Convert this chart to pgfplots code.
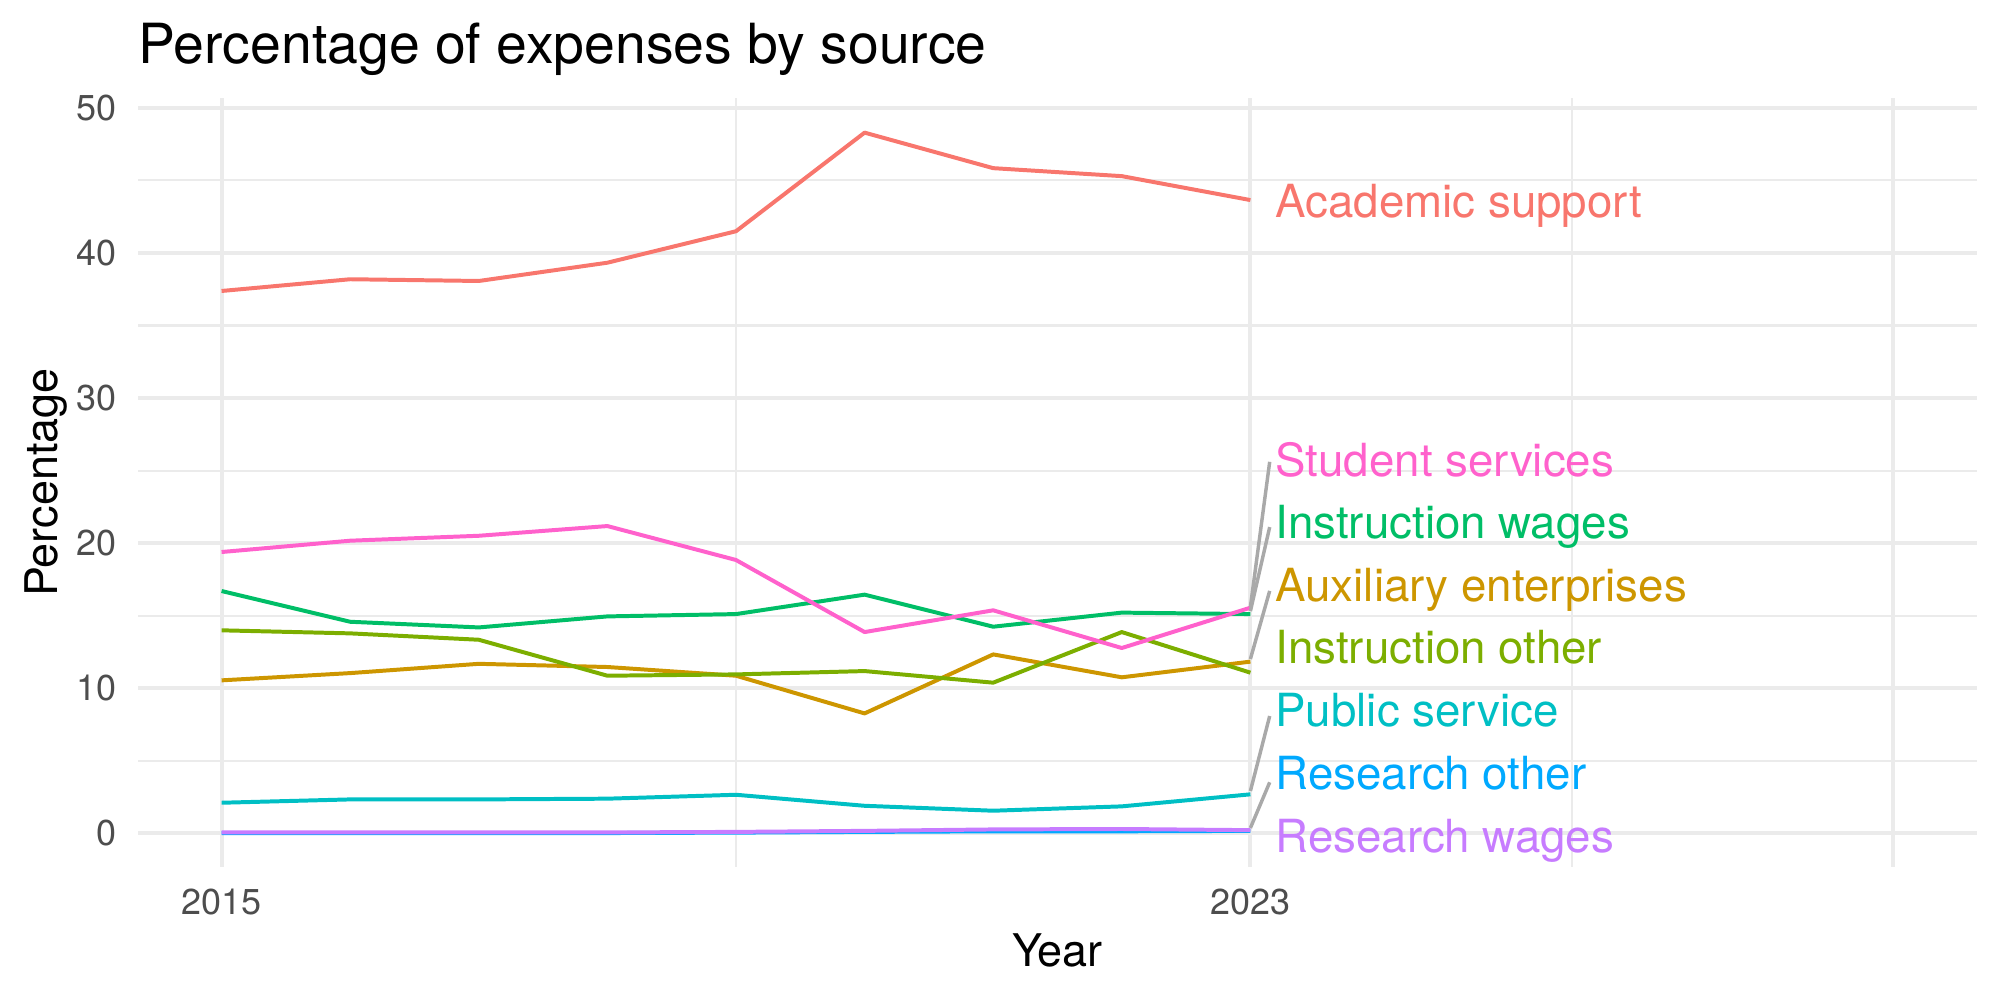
\documentclass[border=0pt]{standalone}
\usepackage{pgfplots}
\pgfplotsset{compat=1.18}
\usepackage{fontspec}
\setmainfont{TeX Gyre Heros}
\definecolor{cAcad}{HTML}{F8766D}
\definecolor{cAux}{HTML}{CD9600}
\definecolor{cIO}{HTML}{7CAE00}
\definecolor{cIW}{HTML}{00BE67}
\definecolor{cPub}{HTML}{00BFC4}
\definecolor{cRO}{HTML}{00A9FF}
\definecolor{cRW}{HTML}{C77CFF}
\definecolor{cStu}{HTML}{FF61CC}
\definecolor{gridc}{HTML}{EBEBEB}
\definecolor{tickc}{HTML}{4D4D4D}
\definecolor{segc}{HTML}{A9A9A9}
\begin{document}
\begin{tikzpicture}
\useasboundingbox (0,0) rectangle (578.16pt,289.08pt);
\begin{axis}[
  at={(39.89pt,38.45pt)}, anchor=south west,
  width=531.62pt, height=222.30pt, scale only axis,
  xmin=2014.35, xmax=2028.65, ymin=-2.34, ymax=50.69,
  axis line style={draw=none},
  major tick length=0pt, minor tick length=0pt,
  xtick={2015,2023,2028}, xticklabels={2015,2023,{}},
  minor xtick={2019,2025.5},
  ytick={0,10,20,30,40,50},
  minor ytick={5,15,25,35,45},
  grid=both,
  major grid style={draw=gridc, line width=1.15pt},
  minor grid style={draw=gridc, line width=0.58pt},
  /pgf/number format/assume math mode=true,
  ticklabel style={font=\fontsize{10.4}{12}\selectfont, text=tickc, inner sep=0pt},
  xticklabel style={anchor=north, yshift=-6.07pt},
  yticklabel style={anchor=east, xshift=-6.07pt},
  xlabel={Year},
  ylabel={Percentage},
  label style={font=\fontsize{13}{15}\selectfont, inner sep=0pt},
  xlabel style={at={(axis description cs:0.5,-0.130)}, anchor=base},
  ylabel style={at={(axis description cs:-0.044,0.5)}, anchor=base, rotate=0},
  clip=false,
  every axis plot/.append style={line width=1.15pt, line join=round, mark=none},
]
\addplot[cAcad] coordinates {(2015,37.38) (2016,38.19) (2017,38.07) (2018,39.33) (2019,41.50) (2020,48.30) (2021,45.85) (2022,45.30) (2023,43.65)};
\addplot[cAux] coordinates {(2015,10.53) (2016,11.03) (2017,11.67) (2018,11.45) (2019,10.85) (2020,8.25) (2021,12.32) (2022,10.74) (2023,11.82)};
\addplot[cIO] coordinates {(2015,13.98) (2016,13.77) (2017,13.33) (2018,10.85) (2019,10.94) (2020,11.17) (2021,10.37) (2022,13.86) (2023,11.06)};
\addplot[cIW] coordinates {(2015,16.69) (2016,14.57) (2017,14.18) (2018,14.94) (2019,15.10) (2020,16.44) (2021,14.23) (2022,15.20) (2023,15.10)};
\addplot[cPub] coordinates {(2015,2.09) (2016,2.32) (2017,2.32) (2018,2.37) (2019,2.64) (2020,1.88) (2021,1.54) (2022,1.84) (2023,2.67)};
\addplot[cRO] coordinates {(2015,0.00) (2016,0.00) (2017,0.00) (2018,0.00) (2019,0.03) (2020,0.08) (2021,0.12) (2022,0.12) (2023,0.15)};
\addplot[cRW] coordinates {(2015,0.04) (2016,0.04) (2017,0.04) (2018,0.04) (2019,0.08) (2020,0.15) (2021,0.25) (2022,0.28) (2023,0.20)};
\addplot[cStu] coordinates {(2015,19.38) (2016,20.16) (2017,20.50) (2018,21.17) (2019,18.83) (2020,13.86) (2021,15.36) (2022,12.76) (2023,15.54)};
% repel segments
\addplot[segc, line width=1.0pt] coordinates {(2023,15.6) (2023.15,25.6)};
\addplot[segc, line width=1.0pt] coordinates {(2023,15.3) (2023.15,21.1)};
\addplot[segc, line width=1.0pt] coordinates {(2023,12.0) (2023.15,16.7)};
\addplot[segc, line width=1.0pt] coordinates {(2023,2.9) (2023.15,8.07)};
\addplot[segc, line width=1.0pt] coordinates {(2023,0.35) (2023.15,3.5)};
% labels
\begin{scope}[every node/.style={anchor=base west, inner sep=0pt, font=\fontsize{13.2}{15}\selectfont}]
\node[text=cAcad] at (axis cs:2023.19,42.48) {Academic support};
\node[text=cStu] at (axis cs:2023.19,24.62) {Student services};
\node[text=cIW] at (axis cs:2023.19,20.34) {Instruction wages};
\node[text=cAux] at (axis cs:2023.19,16.00) {Auxiliary enterprises};
\node[text=cIO] at (axis cs:2023.19,11.72) {Instruction other};
\node[text=cPub] at (axis cs:2023.19,7.38) {Public service};
\node[text=cRO] at (axis cs:2023.19,3.03) {Research other};
\node[text=cRW] at (axis cs:2023.19,-1.31) {Research wages};
\end{scope}
\end{axis}
\node[anchor=base west, inner sep=0pt, font=\fontsize{16}{19}\selectfont] at (39.89pt,270.8pt) {Percentage of expenses by source};
\end{tikzpicture}
\end{document}
